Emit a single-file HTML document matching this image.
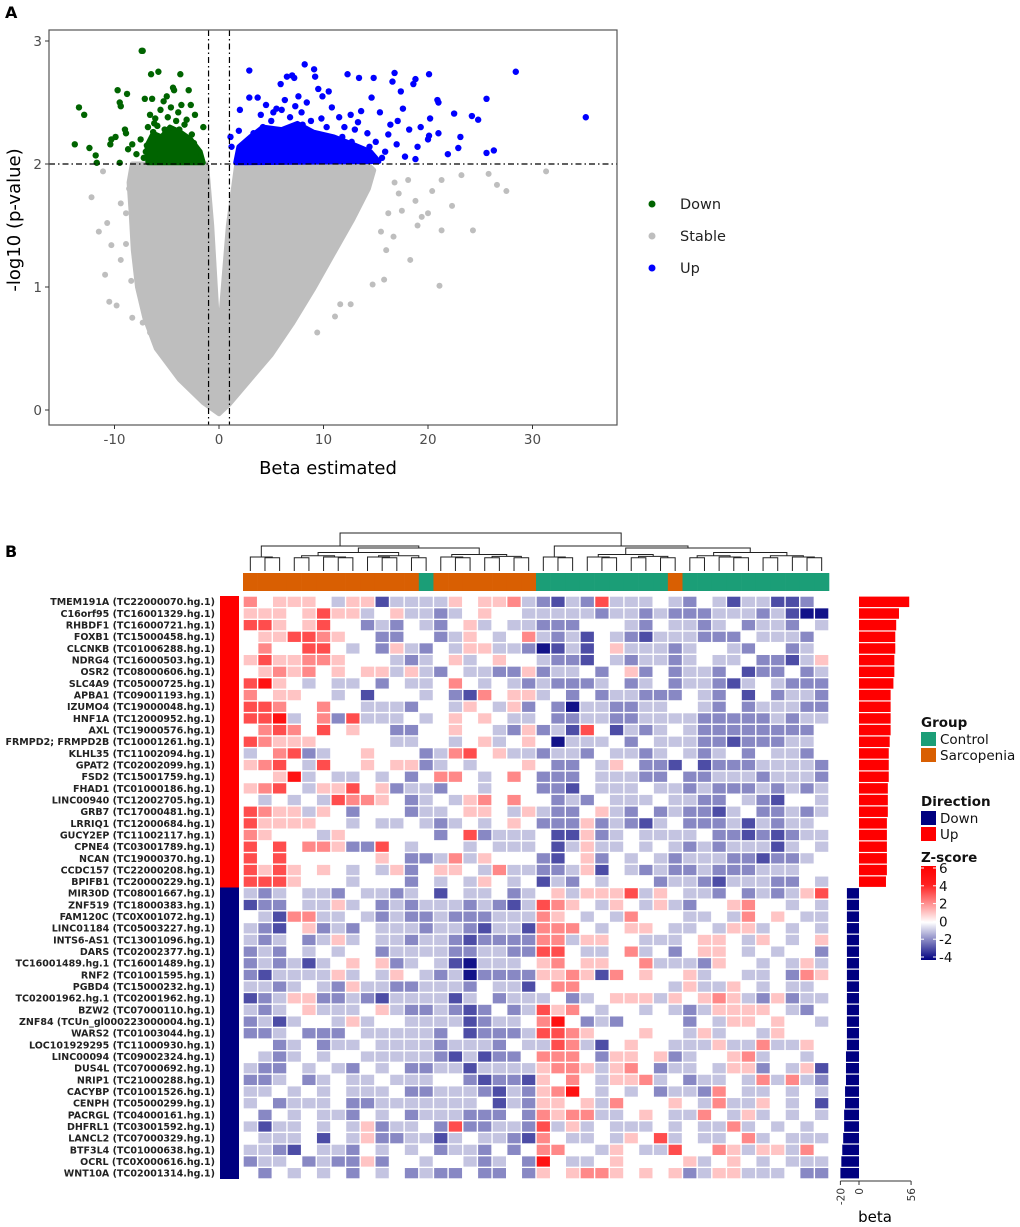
<!DOCTYPE html>
<html><head><meta charset="utf-8">
<style>
html,body{margin:0;padding:0;background:#fff;}
svg{display:block;font-family:"DejaVu Sans","Liberation Sans",sans-serif;}
</style></head>
<body>
<svg id="fig" width="1020" height="1227" viewBox="0 0 1020 1227" xmlns="http://www.w3.org/2000/svg">
  <text x="5" y="18" font-size="16" font-weight="bold">A</text>
  <text x="5" y="557" font-size="16" font-weight="bold">B</text>
  <g id="volcano"></g>
  <g id="heat"></g>
</svg>
<script>
// ---------------- Volcano data ----------------
const greenPts = [[-13.4,2.46],[-12.9,2.40],[-13.8,2.16],[-12.4,2.13],[-11.8,2.07],[-11.7,2.01],[-9.7,2.60],[-9.5,2.50],[-9.4,2.47],[-8.8,2.57],[-10.3,2.20],[-10.4,2.16],[-7.4,2.92],[-7.3,2.92],[-6.5,2.73],[-5.8,2.75],[-3.7,2.73],[-4.3,2.60],[-4.4,2.62],[-2.9,2.60],[-7.1,2.53],[-6.4,2.53],[-5.3,2.51],[-2.7,2.48],[-2.3,2.40],[-3.6,2.48],[-1.5,2.30],[-9.0,2.28],[-8.3,2.16],[-9.5,2.01],[-7.5,2.20],[-6.6,2.40],[-6.2,2.33],[-5.6,2.44],[-4.9,2.38],[-4.1,2.35],[-3.3,2.32],[-8.9,2.25],[-8.7,2.12],[-7.9,2.08],[-7.2,2.05],[-6.8,2.30],[-6.0,2.20],[-5.2,2.28],[-4.6,2.46],[-3.9,2.42],[-3.0,2.18],[-2.2,2.10],[-1.8,2.05],[-2.6,2.24],[-5.7,2.08],[-4.2,2.12],[-6.9,2.15],[-5.0,2.55],[-3.4,2.02],[-9.9,2.22],[-6.3,2.26],[-5.9,2.31],[-4.8,2.25],[-3.8,2.28],[-3.1,2.36],[-2.4,2.17],[-7.0,2.10],[-6.1,2.37]];
const bluePts = [[2.9,2.76],[8.2,2.81],[9.1,2.77],[9.2,2.71],[6.5,2.71],[7.0,2.72],[7.2,2.70],[5.9,2.65],[12.3,2.73],[13.4,2.70],[14.8,2.70],[16.8,2.74],[16.6,2.67],[17.4,2.59],[18.8,2.69],[18.6,2.65],[20.1,2.73],[28.4,2.75],[35.1,2.38],[25.6,2.53],[20.9,2.52],[21.0,2.50],[22.5,2.41],[24.2,2.39],[24.8,2.36],[20.2,2.37],[21.0,2.25],[23.1,2.22],[22.9,2.13],[21.9,2.08],[25.6,2.09],[26.3,2.11],[20.1,2.23],[20.0,2.20],[19.0,2.14],[18.8,2.04],[17.6,2.45],[17.1,2.35],[16.4,2.32],[15.4,2.42],[14.6,2.54],[13.6,2.43],[12.6,2.40],[10.5,2.59],[9.5,2.61],[9.9,2.55],[2.0,2.44],[1.9,2.27],[1.1,2.22],[1.2,2.14],[2.9,2.54],[3.7,2.54],[4.5,2.48],[5.5,2.45],[6.3,2.52],[7.6,2.55],[8.4,2.50],[10.8,2.46],[11.5,2.38],[12.0,2.30],[13.0,2.28],[14.2,2.25],[15.0,2.18],[15.9,2.10],[16.2,2.24],[17.0,2.16],[17.8,2.06],[18.2,2.28],[19.3,2.30],[11.2,2.12],[9.6,2.20],[8.8,2.35],[7.9,2.42],[6.8,2.38],[5.0,2.35],[4.2,2.30],[3.3,2.25],[2.6,2.12],[13.8,2.08],[14.9,2.03],[12.7,2.18],[4.0,2.40],[5.2,2.42],[6.0,2.44],[7.3,2.47],[8.0,2.32],[9.8,2.37],[10.3,2.30],[11.8,2.22],[13.3,2.34],[14.4,2.14],[15.6,2.05]];
const greyPts = [[-12.2,1.73],[-11.1,1.94],[-10.7,1.52],[-10.5,0.88],[-9.8,0.85],[-9.4,1.68],[-10.3,1.34],[-9.4,1.22],[-8.3,0.75],[-7.3,0.71],[-6.6,0.63],[31.3,1.94],[27.5,1.78],[26.6,1.83],[25.8,1.92],[24.3,1.46],[21.3,1.46],[21.1,1.01],[18.3,1.22],[23.2,1.91],[21.3,1.87],[20.4,1.78],[22.3,1.66],[19.4,1.57],[19.0,1.50],[15.8,1.06],[14.7,1.02],[12.6,0.86],[11.6,0.86],[11.1,0.76],[9.4,0.63],[16.7,1.41],[16.0,1.30],[18.1,1.87],[17.2,1.76],[-11.5,1.45],[-10.9,1.10],[-8.9,1.60],[17.5,1.62],[18.8,1.70],[20.0,1.60],[-8.6,1.80],[-8.9,1.35],[-8.4,1.05],[16.8,1.85],[16.2,1.60],[15.5,1.45]];
const greyMass = [[-8.3,2.0],[-8.6,1.85],[-8.4,1.6],[-8.2,1.3],[-7.8,1.0],[-7.1,0.75],[-6.0,0.5],[-3.8,0.25],[-1.5,0.06],[0,-0.03],[1,0.05],[3,0.25],[5,0.45],[7,0.7],[9,0.98],[11,1.28],[12.8,1.55],[14.3,1.8],[14.8,1.95],[14.2,2.0],[1.7,2.0],[0.9,1.5],[0.2,0.78],[-0.2,0.78],[-0.7,1.5],[-1.2,2.0]];
const greenMass = [[-6.8,2.01],[-6.9,2.15],[-6.3,2.25],[-5.5,2.22],[-4.7,2.3],[-3.7,2.26],[-2.7,2.2],[-1.8,2.1],[-1.5,2.01]];
const blueMass = [[1.6,2.01],[1.9,2.14],[3,2.22],[4.2,2.3],[6,2.28],[7.5,2.33],[9,2.26],[11,2.22],[12.8,2.16],[14.5,2.1],[15.3,2.02]];
const xTicks = [-10,0,10,20,30];
const yTicks = [0,1,2,3];

// ---------------- Heatmap data ----------------
const upGenes = ["TMEM191A (TC22000070.hg.1)","C16orf95 (TC16001329.hg.1)","RHBDF1 (TC16000721.hg.1)","FOXB1 (TC15000458.hg.1)","CLCNKB (TC01006288.hg.1)","NDRG4 (TC16000503.hg.1)","OSR2 (TC08000606.hg.1)","SLC4A9 (TC05000725.hg.1)","APBA1 (TC09001193.hg.1)","IZUMO4 (TC19000048.hg.1)","HNF1A (TC12000952.hg.1)","AXL (TC19000576.hg.1)","FRMPD2; FRMPD2B (TC10001261.hg.1)","KLHL35 (TC11002094.hg.1)","GPAT2 (TC02002099.hg.1)","FSD2 (TC15001759.hg.1)","FHAD1 (TC01000186.hg.1)","LINC00940 (TC12002705.hg.1)","GRB7 (TC17000481.hg.1)","LRRIQ1 (TC12000684.hg.1)","GUCY2EP (TC11002117.hg.1)","CPNE4 (TC03001789.hg.1)","NCAN (TC19000370.hg.1)","CCDC157 (TC22000208.hg.1)","BPIFB1 (TC20000229.hg.1)"];
const downGenes = ["MIR30D (TC08001667.hg.1)","ZNF519 (TC18000383.hg.1)","FAM120C (TC0X001072.hg.1)","LINC01184 (TC05003227.hg.1)","INTS6-AS1 (TC13001096.hg.1)","DARS (TC02002377.hg.1)","TC16001489.hg.1 (TC16001489.hg.1)","RNF2 (TC01001595.hg.1)","PGBD4 (TC15000232.hg.1)","TC02001962.hg.1 (TC02001962.hg.1)","BZW2 (TC07000110.hg.1)","ZNF84 (TCUn_gl000223000004.hg.1)","WARS2 (TC01003044.hg.1)","LOC101929295 (TC11000930.hg.1)","LINC00094 (TC09002324.hg.1)","DUS4L (TC07000692.hg.1)","NRIP1 (TC21000288.hg.1)","CACYBP (TC01001526.hg.1)","CENPH (TC05000299.hg.1)","PACRGL (TC04000161.hg.1)","DHFRL1 (TC03001592.hg.1)","LANCL2 (TC07000329.hg.1)","BTF3L4 (TC01000638.hg.1)","OCRL (TC0X000616.hg.1)","WNT10A (TC02001314.hg.1)"];
const upBeta = [54,43,40,39,39,38,38,37,34,34,34,34,33,32,32,32,31,31,31,30,30,30,30,30,29];
const downBeta = [-13,-13,-13,-13,-13,-13,-13,-13,-13,-13,-13,-13,-13,-13,-14,-14,-14,-15,-15,-16,-16,-17,-18,-19,-20];
const groups = ["S","S","S","S","S","S","S","S","S","S","S","S","C","S","S","S","S","S","S","S","C","C","C","C","C","C","C","C","C","S","C","C","C","C","C","C","C","C","C","C"];
// z-score rows: D=-4 C=-3 B=-2 A=-1 0 1 2 3 4
const zRows = [
"201110A11CAAAA10112ABCAB3AAA0AB0ACAACCB0","11101311A01AABA0100AAAAABAABABBBAAABACDD","33101300BAB0AB01A0AABBB000AB0AABA0BAAB0A",
"011332100BB00BA10A02ABAC0ABCAAABBB0AAAB0","0200330A0B1AB0A11AABDCAC01AAABA00AB00BA0","1311221000ABA01A0100ABBC0ABAABA0AA0BBCA1",
"0121201011A1AB0AABB1BAA0B01B0BAAB0CBB0BA","3410A0AA0B0AA020A0ABABBBA0BA0BAABCA0ABBB","201100A0C000A0BC2011A0B0BAABBB0AB0C0BAAB",
"33200200AAAB00A10A1B0BDAABBAA00AB0BAAABB","334A02B3AAA0A01010AA0BBAABBAAAABBBBBABAA","0232030100BB00100AB1BAC30CABA0ABBBBBBBB0",
"3211100000AA00A01A010DAAA0B0AAABBCBBBAA0","A023BA001000BA2301AABAAB0AABA0ABA0B0AAB0","1230A3001011BA0A00010BB0A10BBC0CBBBAAAAB",
"0014A0AA0A0B0220A020BBB0AAABB0BBAAABAAAB","1230A11301BAAB00A000BBC0AAA0AABABBBABABA","0A0A0A32210BA0A120200BAB0AAA0AABB0ABC00A",
"3211A10B000BAA0110A1ABB01AB0BABBCA0BBABA","3111100A0AA0ABA0A010BBB1BABCA0BBBACABAA0","21000A1000000B03BAAA0CC1BA0AAAA0BBCBCBAA",
"3030221BB30A000A0AAA0CA1AA0A0ABABAAACA0A","30300000010BBA2A1000BC01B0A0ABAAABBCBBA0","3131010A0A1B0110A2AABBA1C0ABABBABBBAAA00",
"3331000A000B0A0A10A0CAB0A000BAABCAAABB0A",
"ABA0AAB0AABA0C0AA0BA01A1113A10AAB0BABA13","CBB0AA1A0BABAAABABCA3210A10A1AB001200A0A","0AC22AA0ABABBABBBAAA210A0A2000AA0A2010AA",
"ABC01BAB0AAABAABCAAC2220A0110AA0A11A0A0A","ABA0BA1A0AABAABCBBBB22A1100AAA0110A10A01","BAB0A0A00BAAAABBAABB330AA02A0B0110A0A00B",
"BABACA0101BA0ACDAAA012011002AAAB100A0A1A","BCAAAA1A0A10ABADBBBB1121C201001A00AA0B21","AABA0AB1AABBAAAB0AAC022000000A1AA10A0AA0",
"CBA11BBABCAAAACA0BAAA0BA0111A10121AB1BAA","ABA01AAA01ABBABCB0BA3120A00A0ABA11110AB0","BACA00A1A00AAAACBAA0240BAB0000B0A110100A",
"BBA0BBB0AAAAAB0CBBBA3321000100A1A00A1000","00BA0BAA0AAAABAAAB0AA32AC0100AAA1AA2AA10","0ABA0A00AAAAABCACBB02220B1101BA0012A00A0",
"ABB0A0AB0A0BBAACAAAA1221A120BAA0A11B0A1C","BBA0BA0AA0AAA00BCBBC1020A112A0BAA0A2A2AB","AA0A0A0AAA0BBAAABCAB1240A0A0BAAB20AA0A0A",
"A0BAAA0BBAAAAAAA0CAB1101A200010A2AA10A0C","0B0A0AAB0A0BAAABBB0B2122AA010AA20A1A0A0A","ACAA0A0A1BAA0B3BBAAB3A1A0AAA0A0AA2A0A0A0",
"0AAA0C0A1BBAACA0AABC20AA0A103A0AA02A0AAA","AABC0AAB0A0A0BAAB0B02200A10AA30021A11A20","BAA0BABB1B00A00ABA0B40AA0100001A010A0AAA",
"0B0A0A0B0A0BABB0BB0B1012210101BA11AAA0BB"];
const dendro = [[[0,[1,2]],[[[[3,4],[5,[6,7]]],[[8,[9,10]],[11,12]]],[[13,[14,15]],[[16,17],[18,19]]]]],
                [[20,[21,22]],[[[23,[24,25]],[[26,27],[28,29]]],[[[30,31],[32,[33,34]]],[[35,36],[37,[38,39]]]]]]];
const zLegendTicks = [6,4,2,0,-2,-4];
const betaTicks = [-20,0,56];

const NS = "http://www.w3.org/2000/svg";
function mk(tag, attrs, parent){ const e=document.createElementNS(NS,tag); for(const k in attrs) e.setAttribute(k,attrs[k]); parent.appendChild(e); return e; }

// ---------------- Volcano ----------------
const V = document.getElementById('volcano');
const vx = v => 219 + 10.45*v;
const vy = v => 410 - 123*v;
const poly = (arr)=>arr.map(p=>vx(p[0]).toFixed(1)+","+vy(p[1]).toFixed(1)).join(" ");
let gm = mk('polygon',{points:poly(greyMass),fill:'#bebebe',stroke:'#bebebe','stroke-width':5,'stroke-linejoin':'round'},V);


greyPts.forEach(p=>{ const c=mk('circle',{cx:vx(p[0]),cy:vy(p[1]),r:3,fill:'#bebebe'},V);

 });
let gr = mk('polygon',{points:poly(greenMass),fill:'#006400',stroke:'#006400','stroke-width':5,'stroke-linejoin':'round'},V);


let bl = mk('polygon',{points:poly(blueMass),fill:'#0000ff',stroke:'#0000ff','stroke-width':5,'stroke-linejoin':'round'},V);


greenPts.forEach(p=>{ const c=mk('circle',{cx:vx(p[0]),cy:vy(p[1]),r:3.2,fill:'#006400'},V);

 });
bluePts.forEach(p=>{ const c=mk('circle',{cx:vx(p[0]),cy:vy(p[1]),r:3.2,fill:'#0000ff'},V);

 });
[[vx(-1),30,vx(-1),425],[vx(1),30,vx(1),425],[49,vy(2),617,vy(2)]].forEach(l=>{
 const ln=mk('line',{x1:l[0],y1:l[1],x2:l[2],y2:l[3],stroke:'#000','stroke-width':1.2,'stroke-dasharray':'6,3,1.5,3'},V);
 
 
});
let frame = mk('rect',{x:49,y:30,width:568,height:395,fill:'none',stroke:'#555','stroke-width':1.2},V);


xTicks.forEach(t=>{ mk('line',{x1:vx(t),y1:425,x2:vx(t),y2:429,stroke:'#333'},V);
 const tx=mk('text',{x:vx(t),y:444,'text-anchor':'middle','font-size':13.5,fill:'#4d4d4d'},V); tx.textContent=t;
 
  });
yTicks.forEach(t=>{ mk('line',{x1:45,y1:vy(t),x2:49,y2:vy(t),stroke:'#333'},V);
 const tx=mk('text',{x:42,y:vy(t)+5,'text-anchor':'end','font-size':13.5,fill:'#4d4d4d'},V); tx.textContent=t;
 
  });
let xt=mk('text',{x:328,y:474,'text-anchor':'middle','font-size':18},V); xt.textContent="Beta estimated";


let yt=mk('text',{x:0,y:0,'text-anchor':'middle','font-size':18,transform:'translate(20,220) rotate(-90)'},V); yt.textContent="-log10 (p-value)";


[["Down","#006400",204],["Stable","#bebebe",236],["Up","#0000ff",268]].forEach(e=>{
 const g=mk('g',{},V);
 
 
 mk('circle',{cx:652,cy:e[2],r:3.5,fill:e[1]},g);
 const t=mk('text',{x:680,y:e[2]+5,'font-size':14.5,fill:'#222'},g); t.textContent=e[0];
});

// ---------------- Heatmap ----------------
const H = document.getElementById('heat');
const X0=243, CW=14.65, Y0=596, RH=11.66;
const zval = {D:-4,C:-3,B:-2,A:-1,'0':0,'1':1,'2':2,'3':3,'4':4};
function zcol(v){
 if(v>=0){ const t=Math.min(v/4.3,1); return `rgb(255,${Math.round(255*(1-t))},${Math.round(255*(1-t))})`; }
 const t=Math.min(-v/4.3,1);
 return `rgb(${Math.round(255-255*t)},${Math.round(255-255*t)},${Math.round(255-127*t)})`;
}
const genes = upGenes.concat(downGenes);
genes.forEach((g,i)=>{
 const cy = Y0+(i+0.5)*RH;
 const t=mk('text',{x:215,y:cy+3.4,'text-anchor':'end','font-size':9.5,'font-weight':'bold',fill:'#222'},H); t.textContent=g;
 
 
 const row = (zRows[i]||"").padEnd(40,'0');
 for(let j=0;j<40;j++){
  const r=mk('rect',{x:X0+j*CW+0.7,y:Y0+i*RH+0.7,width:CW-1.4,height:RH-1.4,fill:zcol(zval[row[j]]||0)},H);
  
  
 }
});
let ds1=mk('rect',{x:220,y:Y0,width:19,height:25*RH,fill:'#ff0000'},H);


let ds2=mk('rect',{x:220,y:Y0+25*RH,width:19,height:25*RH,fill:'#000080'},H);


groups.forEach((g,j)=>{
 const r=mk('rect',{x:X0+j*CW,y:573,width:CW+0.3,height:18,fill:g==="S"?'#d95f02':'#1b9e77'},H);
 
 
});
function drawNode(n){
 if(typeof n==='number') return {x:X0+(n+0.5)*CW, y:571, size:1};
 const a=drawNode(n[0]), b=drawNode(n[1]);
 const size=a.size+b.size, y=571-(12+0.65*size);
 const p=mk('path',{d:`M${a.x},${a.y}V${y}H${b.x}V${b.y}`,fill:'none',stroke:'#222','stroke-width':1},H);
 
 
 return {x:(a.x+b.x)/2, y:y, size:size};
}
drawNode(dendro);
const bx = v => 859 + 0.93*v;
const betas = upBeta.concat(downBeta);
betas.forEach((b,i)=>{
 const x1=Math.min(bx(0),bx(b)), w=Math.abs(bx(b)-bx(0));
 const r=mk('rect',{x:x1,y:Y0+i*RH+0.6,width:w,height:RH-1.2,fill:b>0?'#ff0000':'#000080'},H);
 
 
});
mk('line',{x1:bx(-20),y1:1181,x2:bx(56),y2:1181,stroke:'#333'},H);
betaTicks.forEach(t=>{ mk('line',{x1:bx(t),y1:1181,x2:bx(t),y2:1185,stroke:'#333'},H);
 const tx=mk('text',{x:0,y:0,'text-anchor':'end','font-size':10.5,fill:'#333',transform:`translate(${bx(t)+4},1188) rotate(-90)`},H); tx.textContent=t;
 
  });
let bt=mk('text',{x:875,y:1222,'text-anchor':'middle','font-size':15},H); bt.textContent="beta";


function txt(x,y,s,size,bold,name){ const t=mk('text',{x:x,y:y,'font-size':size,'font-weight':bold?'bold':'normal',fill:'#111'},H); t.textContent=s;
 
  return t; }
txt(921,727,"Group",13.5,true,'group-legend-title');
mk('rect',{x:921,y:732,width:15,height:14,fill:'#1b9e77'},H); txt(940,744,"Control",13.5,false,'legend-control');
mk('rect',{x:921,y:748,width:15,height:14,fill:'#d95f02'},H); txt(940,760,"Sarcopenia",13.5,false,'legend-sarcopenia');
txt(921,806,"Direction",13.5,true,'direction-legend-title');
mk('rect',{x:921,y:811,width:15,height:14,fill:'#000080'},H); txt(940,823,"Down",13.5,false,'legend-down');
mk('rect',{x:921,y:827,width:15,height:14,fill:'#ff0000'},H); txt(940,839,"Up",13.5,false,'legend-up');
txt(921,862,"Z-score",13.5,true,'zscore-legend-title');
const defs=mk('defs',{},H);
const lg=mk('linearGradient',{id:'zg',x1:0,y1:0,x2:0,y2:1},defs);
[[0,'#ff0000'],[0.2,'#ff2020'],[0.6,'#ffffff'],[1,'#000080']].forEach(s=>mk('stop',{offset:s[0],'stop-color':s[1]},lg));
let cb=mk('rect',{x:921,y:866,width:15,height:94,fill:'url(#zg)'},H);


const zy = v => 868 + (6-v)*(957-868)/10;
zLegendTicks.forEach(t=>{ mk('line',{x1:921,y1:zy(t),x2:924,y2:zy(t),stroke:'#fff'},H); mk('line',{x1:933,y1:zy(t),x2:936,y2:zy(t),stroke:'#fff'},H);
 txt(939,zy(t)+5,String(t),13.5,false,'zscore-tick-label'); });
</script>
</body></html>
